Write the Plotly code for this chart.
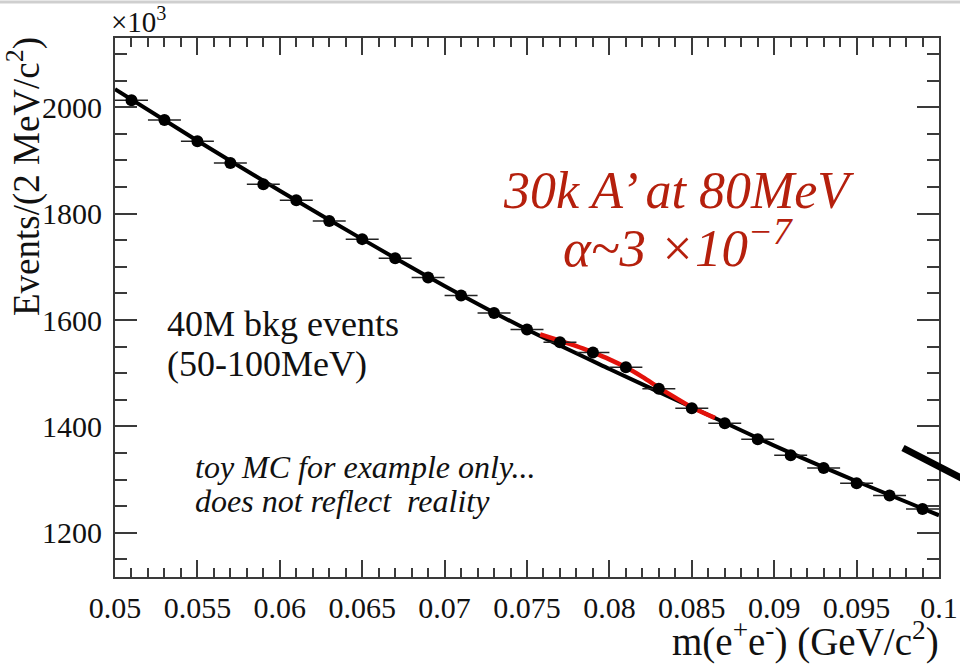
import plotly.graph_objects as go

# ---------------- data (values in units of 10^3 events) ----------------
mass_centers = [0.051, 0.053, 0.055, 0.057, 0.059, 0.061, 0.063, 0.065, 0.067,
                0.069, 0.071, 0.073, 0.075, 0.077, 0.079, 0.081, 0.083, 0.085,
                0.087, 0.089, 0.091, 0.093, 0.095, 0.097, 0.099]
events = [2013, 1976, 1936, 1895, 1855, 1825, 1786, 1752, 1716, 1680, 1646,
          1613, 1582, 1558, 1539, 1511, 1471, 1434, 1406, 1376, 1346, 1322,
          1293, 1270, 1245]
bin_half_width = [0.001] * len(mass_centers)

bkg_fit_x = [0.050, 0.055, 0.060, 0.065, 0.070, 0.075, 0.080, 0.085, 0.090, 0.095, 0.100]
bkg_fit_y = [2034, 1937, 1843, 1752, 1664, 1582, 1508, 1436, 1364, 1297, 1233]

sig_fit_x = [0.0758, 0.077, 0.078, 0.079, 0.080, 0.081, 0.082, 0.083, 0.084, 0.085, 0.0864]
sig_fit_y = [1573, 1561, 1551, 1539, 1526, 1511, 1493, 1473, 1454, 1436, 1416]

x_ticks = [0.05, 0.055, 0.06, 0.065, 0.07, 0.075, 0.08, 0.085, 0.09, 0.095, 0.1]
x_tick_labels = ["0.05", "0.055", "0.06", "0.065", "0.07", "0.075", "0.08",
                 "0.085", "0.09", "0.095", "0.1"]
y_ticks = [1200, 1400, 1600, 1800, 2000]
y_tick_labels = ["1200", "1400", "1600", "1800", "2000"]

SERIF = "Liberation Serif"
AXIS_COL = "#3a3a3a"

fig = go.Figure()

fig.add_trace(go.Scatter(
    x=bkg_fit_x, y=bkg_fit_y, mode="lines",
    line=dict(color="black", width=4, shape="spline", smoothing=0.8),
    hoverinfo="skip", showlegend=False))

fig.add_trace(go.Scatter(
    x=sig_fit_x, y=sig_fit_y, mode="lines",
    line=dict(color="#e3120b", width=4.5, shape="spline", smoothing=1.0),
    hoverinfo="skip", showlegend=False))

fig.add_trace(go.Scatter(
    x=mass_centers, y=events, mode="markers",
    marker=dict(color="black", size=12),
    error_x=dict(type="data", array=bin_half_width, symmetric=True,
                 color="#222222", thickness=1.5, width=0),
    showlegend=False))

fig.update_xaxes(
    range=[0.05, 0.1], tickvals=x_ticks, ticktext=x_tick_labels,
    ticks="inside", ticklen=17, tickwidth=1.5, tickcolor=AXIS_COL,
    minor=dict(dtick=0.001, ticks="inside", ticklen=9, tickwidth=1.5, tickcolor=AXIS_COL),
    showline=True, linecolor=AXIS_COL, linewidth=2, mirror="allticks",
    showgrid=False, zeroline=False, automargin=False,
    tickfont=dict(family=SERIF, size=30, color="#111111"),
    ticklabelstandoff=3)

fig.update_yaxes(
    range=[1117, 2130], tickvals=y_ticks, ticktext=y_tick_labels,
    ticks="inside", ticklen=22, tickwidth=1.5, tickcolor=AXIS_COL,
    minor=dict(dtick=50, ticks="inside", ticklen=12, tickwidth=1.5, tickcolor=AXIS_COL),
    showline=True, linecolor=AXIS_COL, linewidth=2, mirror="allticks",
    showgrid=False, zeroline=False, automargin=False,
    tickfont=dict(family=SERIF, size=30, color="#111111"),
    ticklabelstandoff=5)

# pixel helpers relative to the plot frame (115..939, 38..577)
def px_x(p):
    return (p - 115) / 824.0

def px_y(p):
    return (577 - p) / 539.0

annotations = [
    dict(text="×10<sup>3</sup>", x=px_x(109), y=px_y(20), xanchor="left", yanchor="middle",
         font=dict(family=SERIF, size=29, color="#111111")),
    dict(text="Events/(2 MeV/c<sup>2</sup>)", x=px_x(24), y=px_y(177), textangle=-90,
         xanchor="center", yanchor="middle",
         font=dict(family=SERIF, size=37, color="#111111")),
    dict(text="m(e<sup>+</sup>e<sup>-</sup>) (GeV/c<sup>2</sup>)", x=px_x(941), y=px_y(639),
         xanchor="right", yanchor="middle",
         font=dict(family=SERIF, size=39, color="#111111")),
    dict(text="30k A’ at 80MeV", x=px_x(678), y=px_y(191), xanchor="center", yanchor="middle",
         font=dict(family=SERIF, size=52, color="#b5200d", style="italic")),
    dict(text="α~3 ×10<sup>−7</sup>", x=px_x(678), y=px_y(244), xanchor="center", yanchor="middle",
         font=dict(family=SERIF, size=53, color="#b5200d", style="italic")),
    dict(text="40M bkg events", x=px_x(165), y=px_y(324), xanchor="left", yanchor="middle",
         font=dict(family=SERIF, size=36, color="#111111")),
    dict(text="(50-100MeV)", x=px_x(165), y=px_y(364), xanchor="left", yanchor="middle",
         font=dict(family=SERIF, size=36, color="#111111")),
    dict(text="toy MC for example only...", x=px_x(193), y=px_y(467), xanchor="left", yanchor="middle",
         font=dict(family=SERIF, size=32, color="#111111", style="italic")),
    dict(text="does not reflect  reality", x=px_x(193), y=px_y(501), xanchor="left", yanchor="middle",
         font=dict(family=SERIF, size=32, color="#111111", style="italic")),
]
for a in annotations:
    a.update(xref="paper", yref="paper", showarrow=False)

shapes = [
    dict(type="line", xref="paper", yref="paper",
         x0=px_x(903), y0=px_y(448), x1=px_x(965), y1=px_y(480),
         line=dict(color="black", width=7)),
    dict(type="line", xref="paper", yref="paper",
         x0=px_x(0), y0=px_y(2), x1=px_x(960), y1=px_y(2),
         line=dict(color="#cfcfcf", width=3)),
]

fig.update_layout(
    width=960, height=664,
    margin=dict(l=115, r=21, t=38, b=87),
    paper_bgcolor="white", plot_bgcolor="white",
    annotations=annotations, shapes=shapes,
    showlegend=False)

# remove the browser's default 8px body margin so the figure fills the window exactly
fig.write_html("out.html",
               config={"displayModeBar": False},
               post_script="document.body.style.margin='0';document.body.style.overflow='hidden';")
